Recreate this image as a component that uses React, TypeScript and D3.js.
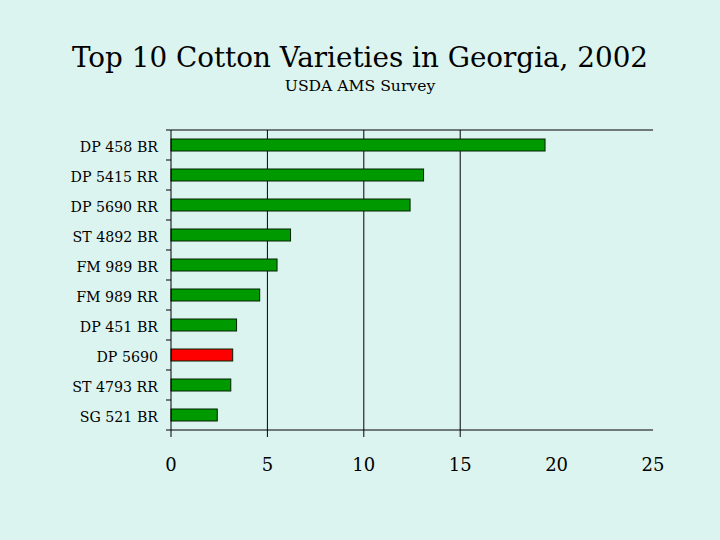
import * as d3 from "d3";

const varieties = [
  "DP 458 BR",
  "DP 5415 RR",
  "DP 5690 RR",
  "ST 4892 BR",
  "FM 989 BR",
  "FM 989 RR",
  "DP 451 BR",
  "DP 5690",
  "ST 4793 RR",
  "SG 521 BR",
];
const percents = [19.4, 13.1, 12.4, 6.2, 5.5, 4.6, 3.4, 3.2, 3.1, 2.4];
const highlighted = ["DP 5690"];
const xTicks = [0, 5, 10, 15, 20, 25];
const gridValues = [5, 10, 15];

const FONT = "'DejaVu Serif', 'Liberation Serif', serif";

export default function App() {
  const width = 720;
  const height = 540;
  const left = 171;
  const right = 653;
  const top = 130;
  const bottom = 430;

  const x = d3.scaleLinear().domain([0, 25]).range([left, right]);
  const y = d3.scaleBand<string>().domain(varieties).range([top, bottom]).paddingInner(0.6).paddingOuter(0.3);
  const band = d3.scaleBand<string>().domain(varieties).range([top, bottom]);

  return (
    <svg
      width={width}
      height={height}
      style={{ position: "absolute", left: 0, top: 0, display: "block" }}
      fontFamily={FONT}
    >
      <rect x={0} y={0} width={width} height={height} fill="#dcf4ef" />
      <text x={360} y={67} textAnchor="middle" fontSize={27.8} fill="#000">
        Top 10 Cotton Varieties in Georgia, 2002
      </text>
      <text x={360} y={91} textAnchor="middle" fontSize={15.6} fill="#000">
        USDA AMS Survey
      </text>

      {/* top border */}
      <line x1={left} x2={right} y1={top} y2={top} stroke="#000" strokeWidth={1} />

      {/* gridlines */}
      {gridValues.map((v) => (
        <line key={`g${v}`} x1={x(v)} x2={x(v)} y1={top} y2={bottom + 7} stroke="#000" strokeWidth={1} />
      ))}

      {/* bars */}
      {varieties.map((name, i) => (
        <rect
          key={name}
          x={x(0)}
          y={y(name)!}
          width={x(percents[i]) - x(0)}
          height={y.bandwidth()}
          fill={highlighted.includes(name) ? "#ff0000" : "#009900"}
          stroke="#002200"
          strokeWidth={1}
        />
      ))}

      {/* y axis */}
      <line x1={left} x2={left} y1={top} y2={bottom + 7} stroke="#000" strokeWidth={1} />
      {varieties.map((name) => (
        <line
          key={`t${name}`}
          x1={left - 5}
          x2={left}
          y1={band(name)! + band.bandwidth()}
          y2={band(name)! + band.bandwidth()}
          stroke="#000"
        />
      ))}
      <line x1={left - 5} x2={left} y1={top} y2={top} stroke="#000" />
      {varieties.map((name) => (
        <text
          key={`l${name}`}
          x={158}
          y={band(name)! + band.bandwidth() / 2 + 6.5}
          textAnchor="end"
          fontSize={14.2}
          fill="#000"
        >
          {name}
        </text>
      ))}

      {/* x axis */}
      <line x1={left} x2={right} y1={bottom} y2={bottom} stroke="#000" strokeWidth={1} />
      {xTicks.map((v) => (
        <text key={`x${v}`} x={x(v)} y={471} textAnchor="middle" fontSize={18} fill="#000">
          {v}
        </text>
      ))}
    </svg>
  );
}
